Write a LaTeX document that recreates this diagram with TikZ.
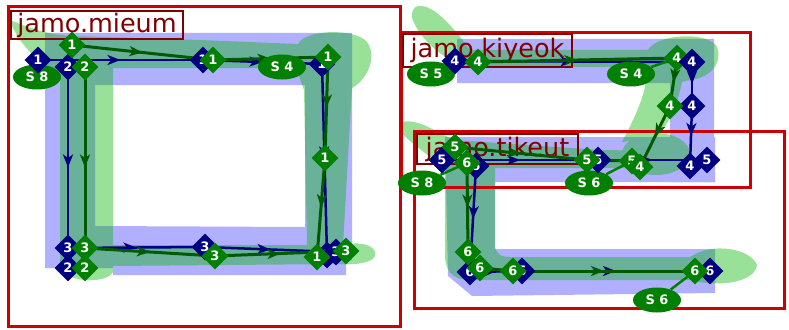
\documentclass[tikz,border=0pt]{standalone}
\usepackage{fontspec}
\setsansfont{DejaVu Sans}
\usetikzlibrary{shapes.geometric,arrows.meta,decorations.markings}
\definecolor{navstroke}{RGB}{0,0,128}
\definecolor{grnfill}{RGB}{0,128,0}
\definecolor{grnstroke}{RGB}{0,90,0}
\definecolor{boxred}{RGB}{204,0,0}
\definecolor{labred}{RGB}{128,0,0}
\definecolor{shadeblue}{RGB}{0,0,255}
\definecolor{shadegreen}{RGB}{0,178,0}
\pgfdeclarelayer{shade}
\pgfdeclarelayer{wires}
\pgfsetlayers{shade,wires,main}
\tikzset{
  midarrow/.style={decoration={markings, mark=at position 0.5 with {\arrow{Stealth[length=13pt,width=10pt,inset=3.5pt]}}}, postaction={decorate}},
  navline/.style={draw=navstroke, color=navstroke, line width=2.5pt, midarrow},
  grnline/.style={draw=grnstroke, color=grnstroke, line width=3pt, midarrow},
  tieline/.style={draw=grnfill, line width=2.5pt},
  navmark/.style={diamond, fill=navstroke, text=white, inner sep=0pt, minimum width=27pt, minimum height=27pt, font=\sffamily\bfseries\fontsize{13}{13}\selectfont},
  grnmark/.style={navmark, fill=grnfill},
  strokenum/.style={ellipse, fill=grnfill, text=white, inner sep=0pt, minimum width=48pt, minimum height=25pt, font=\sffamily\bfseries\fontsize{13}{13}\selectfont},
  jamobox/.style={draw=boxred, line width=3pt},
  jamolabel/.style={draw=labred, line width=2pt, text=labred, anchor=north west, inner sep=0pt, font=\sffamily\fontsize{25.5}{25.5}\selectfont}
}
\begin{document}
\begin{tikzpicture}[x=1pt,y=-1pt]
\useasboundingbox (0,0) rectangle (789,329);

\node[strokenum] (sm8) at (37,77) {S 8};
\node[strokenum] (sm4) at (282,67) {S 4};
\node[strokenum] (sk5) at (431,74) {S 5};
\node[strokenum] (sk4) at (631,74) {S 4};
\node[strokenum] (st8) at (422,183) {S 8};
\node[strokenum] (st6a) at (589,183) {S 6};
\node[strokenum] (st6b) at (657,300) {S 6};

\node[navmark] (m1a) at (38,60) {1};
\node[navmark] (m1b) at (203,60) {1};
\node[navmark] (m1c) at (322,64) {1};
\node[navmark] (m1d) at (327,255) {1};
\node[navmark] (m2a) at (68,67) {2};
\node[navmark] (m2b) at (68,268) {2};
\node[navmark] (m3a) at (68,248) {3};
\node[navmark] (m3b) at (205,247) {3};
\node[navmark] (m3c) at (336,252) {3};
\node[grnmark] (g1a) at (72,45) {1};
\node[grnmark] (g1b) at (213,60) {1};
\node[grnmark] (g1c) at (328,57) {1};
\node[grnmark] (g1d) at (325,158) {1};
\node[grnmark] (g1e) at (317,257) {1};
\node[grnmark] (g2a) at (85,67) {2};
\node[grnmark] (g2b) at (85,268) {2};
\node[grnmark] (g3a) at (85,248) {3};
\node[grnmark] (g3b) at (215,256) {3};
\node[grnmark] (g3c) at (346,251) {3};

\node[navmark] (k4a) at (455,61) {4};
\node[grnmark] (kg4a) at (478,62) {4};
\node[grnmark] (kg4b) at (677,58) {4};
\node[navmark] (k4b) at (692,62) {4};
\node[navmark] (k4c) at (692,106) {4};
\node[navmark] (k4d) at (690,166) {4};
\node[grnmark] (kg4c) at (670,106) {4};

\node[navmark] (t5a) at (442,160) {5};
\node[navmark] (t5b) at (598,160) {5};
\node[navmark] (t5c) at (707,160) {5};
\node[navmark] (t6a) at (476,166) {6};
\node[navmark] (t6b) at (470,272) {6};
\node[navmark] (t6c) at (522,271) {6};
\node[navmark] (t6d) at (710,271) {6};
\node[grnmark] (tg5a) at (455,147) {5};
\node[grnmark] (tg5b) at (587,160) {5};
\node[grnmark] (tg5c) at (632,161) {5};
\node[grnmark] (kg4d) at (640,167) {4};
\node[grnmark] (tg6a) at (467,163) {6};
\node[grnmark] (tg6b) at (468,252) {6};
\node[grnmark] (tg6c) at (480,268) {6};
\node[grnmark] (tg6d) at (513,271) {6};
\node[grnmark] (tg6e) at (695,271) {6};

\begin{pgfonlayer}{shade}
\begin{scope}[transparency group, opacity=0.31]
\fill[shadeblue, even odd rule] (45,33) -- (352,33) -- (352,260) -- (346,262) -- (346,275) -- (113,275) -- (113,268) -- (45,268) -- cycle
  (95,85) -- (305,85) -- (305,227) -- (95,226) -- cycle;
\fill[shadeblue] (457,39) -- (714,39) -- (714,182) -- (670,182) -- (670,83) -- (457,83) -- cycle;
\fill[shadeblue] (445,137) -- (715,137) -- (715,182) -- (495,182) -- (495,249) -- (715,249) -- (715,293) -- (472,296) -- (448,276) -- cycle;
\end{scope}
\begin{scope}[transparency group, opacity=0.4]
\fill[shadegreen, even odd rule] (10,20) .. controls (30,28) and (45,34) .. (70,36) -- (200,40) -- (298,44) .. controls (305,30) and (350,28) .. (365,40) .. controls (378,52) and (370,78) .. (352,88) -- (343,245) .. controls (365,240) and (378,248) .. (375,256) .. controls (372,264) and (350,265) .. (340,264) -- (113,266) -- (113,272) .. controls (108,283) and (72,283) .. (65,272) -- (60,262) -- (60,75) .. controls (40,65) and (15,40) .. (10,20) -- cycle
  (113,68) -- (296,68) -- (304,90) -- (307,245) -- (113,245) -- cycle;
\fill[shadegreen] (418,6) .. controls (435,4) and (455,30) .. (470,50) -- (648,50) .. controls (655,36) and (700,30) .. (716,45) .. controls (724,60) and (712,78) .. (690,80) -- (682,82) .. controls (676,110) and (668,125) .. (655,138) -- (622,142) .. controls (636,115) and (646,95) .. (648,67) -- (470,67) .. controls (445,62) and (420,40) .. (412,18) .. controls (411,11) and (414,7) .. (418,6) -- cycle;
\fill[shadegreen] (656,154) ellipse [x radius=34pt, y radius=21pt];
\fill[shadegreen] (402,122) .. controls (420,118) and (440,135) .. (455,140) -- (600,150) .. controls (615,150) and (625,150) .. (630,152) -- (630,168) -- (495,168) -- (495,245) .. controls (495,253) and (500,257) .. (510,257) -- (690,257) .. controls (712,242) and (750,248) .. (757,265) .. controls (755,282) and (720,288) .. (690,280) -- (470,280) .. controls (452,280) and (445,270) .. (445,255) -- (445,170) .. controls (430,155) and (405,140) .. (400,130) .. controls (398,125) and (399,123) .. (402,122) -- cycle;
\end{scope}
\end{pgfonlayer}

\begin{pgfonlayer}{wires}
\draw[jamobox] (8,7) rectangle (400,326);
\draw[jamobox] (401,33) rectangle (750,187);
\draw[jamobox] (414,131) rectangle (784,308);
\node[jamolabel, minimum width=172pt, minimum height=28pt] (lmieum) at (10,10) {jamo.mieum};
\node[jamolabel, minimum width=169pt, minimum height=33pt] (lkiyeok) at (402,33) {jamo.kiyeok};
\node[jamolabel, minimum width=161pt, minimum height=30pt] (ltikeut) at (416,133) {jamo.tikeut};

\draw[navline] (m1a.center) -- (m1b.center);
\draw[navline] (m1b.center) -- (m1c.center);
\draw[navline] (m1c.center) -- (m1d.center);
\draw[navline] (m2a.center) -- (m2b.center);
\draw[navline] (m3a.center) -- (m3b.center);
\draw[navline] (m3b.center) -- (m3c.center);
\draw[grnline] (g1a.center) -- (g1b.center);
\draw[grnline] (g1b.center) -- (g1c.center);
\draw[grnline] (g1c.center) -- (g1d.center);
\draw[grnline] (g1d.center) -- (g1e.center);
\draw[grnline] (g2a.center) -- (g2b.center);
\draw[grnline] (g3a.center) -- (g3b.center);
\draw[grnline] (g3b.center) -- (g3c.center);

\draw[navline] (k4a.center) -- (k4b.center);
\draw[navline] (k4b.center) -- (k4c.center);
\draw[navline] (k4c.center) -- (k4d.center);
\draw[grnline] (kg4a.center) -- (kg4b.center);
\draw[grnline] (kg4b.center) -- (kg4c.center);
\draw[grnline] (kg4c.center) -- (kg4d.center);
\draw[tieline] (sk4) -- (kg4b.center);

\draw[navline] (t5a.center) -- (t5b.center);
\draw[navline] (t5b.center) -- (t5c.center);
\draw[navline] (t6a.center) -- (t6b.center);
\draw[navline] (t6b.center) -- (t6c.center);
\draw[navline] (t6c.center) -- (t6d.center);
\draw[grnline] (tg5a.center) -- (tg5b.center);
\draw[grnline] (tg5b.center) -- (tg5c.center);
\draw[grnline] (tg6a.center) -- (tg6b.center);
\draw[grnline] (tg6b.center) -- (tg6c.center);
\draw[grnline] (tg6c.center) -- (tg6d.center);
\draw[grnline] (tg6d.center) -- (tg6e.center);
\draw[tieline] (st8) -- (tg6a.center);
\draw[tieline] (st6a) -- (tg5c.center);
\draw[tieline] (st6b) -- (tg6e.center);
\end{pgfonlayer}
\end{tikzpicture}
\end{document}
